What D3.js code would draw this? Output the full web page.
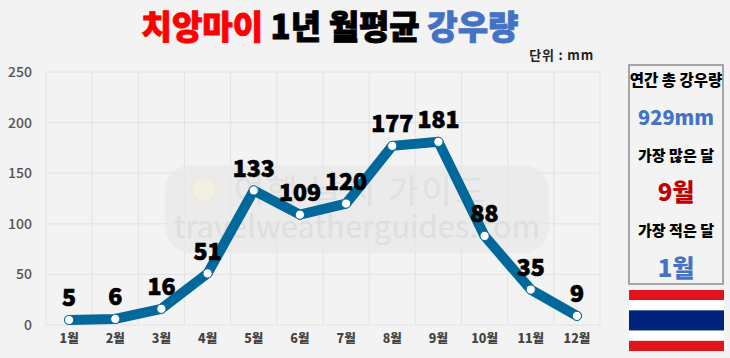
<!DOCTYPE html>
<html>
<head>
<meta charset="utf-8">
<script src="https://cdn.jsdelivr.net/npm/d3@7"></script>
<style>
html,body{margin:0;padding:0;background:#f3f3f3;overflow:hidden;}
text{font-family:"Noto Sans CJK KR","Noto Sans",sans-serif;}
</style>
</head>
<body>
<div id="container"></div>
<script>
//data
let months = ["1월","2월","3월","4월","5월","6월","7월","8월","9월","10월","11월","12월"];
let rainfall = [5,6,16,51,133,109,120,177,181,88,35,9];
let yTicks = [0,50,100,150,200,250];
let titleParts = ["치앙마이"," 1년 월평균 ","강우량"];
let titleColors = ["#ff0000","#000000","#4472c4"];
let sideLabels = ["연간 총 강우량","929mm","가장 많은 달","9월","가장 적은 달","1월"];
let sideColors = ["#000000","#4472c4","#000000","#c00000","#000000","#4472c4"];
let sideSizes = [15.5,20,15,24,15,24];
let flagStripes = [1,1,2,1,1];
let flagColors = ["#e0141c","#ffffff","#00247d","#ffffff","#e0141c"];

//settings
let w = 730;
let h = 358;
let viz = d3.select("#container").append("svg").attr("width", w).attr("height", h);
viz.append("rect").attr("width", w).attr("height", h).attr("fill", "#f3f3f3");

//scales
let xScale = d3.scaleBand().domain(months).range([46, 600]);
let yScale = d3.scaleLinear().domain([0, 250]).range([325, 72]);

//grid
let gridGroup = viz.append("g");
gridGroup.selectAll(".h").data(yTicks).enter().append("line")
  .attr("x1", 46).attr("x2", 600)
  .attr("y1", d => yScale(d)).attr("y2", d => yScale(d))
  .attr("stroke", "#e2e2e2").attr("stroke-width", 1);
gridGroup.selectAll(".v").data(months.concat("end")).enter().append("line")
  .attr("x1", (d, i) => 46 + i * xScale.bandwidth())
  .attr("x2", (d, i) => 46 + i * xScale.bandwidth())
  .attr("y1", 72).attr("y2", 325)
  .attr("stroke", "#e2e2e2").attr("stroke-width", 1);

//watermark
let mark = viz.append("g");
mark.append("rect").attr("x", 165).attr("y", 165).attr("width", 384).attr("height", 88).attr("rx", 26)
  .attr("fill", "#e8e8e8").attr("opacity", 0.8);
mark.append("circle").attr("cx", 204).attr("cy", 190).attr("r", 12)
  .attr("fill", "#f2efe4").attr("stroke", "#f0ead6").attr("stroke-width", 2);
mark.append("text").attr("x", 234).attr("y", 203).attr("font-size", 33).attr("letter-spacing", 3).attr("fill", "#e0e0e0")
  .text("여행 날씨 가이드");
mark.append("text").attr("x", 357).attr("y", 238).attr("text-anchor", "middle").attr("font-size", 31).attr("fill", "#dedede")
  .attr("font-family", "Noto Sans")
  .text("travelweatherguides.com");

//axes
let xAxis = d3.axisBottom(xScale).tickSize(0);
let xAxisGroup = viz.append("g").attr("transform", "translate(0,325)").call(xAxis);
xAxisGroup.select(".domain").remove();
xAxisGroup.selectAll("text").attr("y", 9).attr("font-size", 12.5).attr("font-weight", 900)
  .attr("font-family", "Noto Sans CJK KR").attr("fill", "#444");

let yAxis = d3.axisLeft(yScale).tickValues(yTicks).tickSize(0);
let yAxisGroup = viz.append("g").attr("transform", "translate(32,0)").call(yAxis);
yAxisGroup.select(".domain").remove();
yAxisGroup.selectAll("text").attr("x", 0).attr("font-size", 14).attr("font-weight", 500)
  .attr("font-family", "Noto Sans").attr("fill", "#555");

//line
let cx = d => xScale(d.month) + xScale.bandwidth() / 2;
let points = months.map((m, i) => ({month: m, value: rainfall[i]}));
let line = d3.line().x(cx).y(d => yScale(d.value));
viz.append("path").datum(points).attr("d", line)
  .attr("fill", "none").attr("stroke", "#01689b").attr("stroke-width", 10)
  .attr("stroke-linejoin", "round").attr("stroke-linecap", "round");

let graphGroup = viz.append("g");
let datapoints = graphGroup.selectAll(".datapoint").data(points).enter().append("g").classed("datapoint", true)
  .attr("transform", d => "translate(" + cx(d) + "," + yScale(d.value) + ")");
datapoints.append("circle").attr("r", 4.6).attr("fill", "#ffffff").attr("stroke", "#01689b").attr("stroke-width", 1);
datapoints.append("text").attr("y", -22).attr("dy", "0.36em").attr("text-anchor", "middle")
  .attr("font-size", 23).attr("font-weight", 900).attr("fill", "#000")
  .attr("stroke", "#000").attr("stroke-width", 0.7).text(d => d.value);

//title
let title = viz.append("text").attr("x", 330).attr("y", 39).attr("text-anchor", "middle")
  .attr("font-size", 33).attr("font-weight", 900).attr("xml:space", "preserve");
title.selectAll("tspan").data(titleParts).enter().append("tspan")
  .attr("fill", (d, i) => titleColors[i]).attr("stroke", (d, i) => titleColors[i]).attr("stroke-width", 0.9)
  .style("white-space", "pre").text(d => d);

viz.append("text").attr("x", 594).attr("y", 60).attr("text-anchor", "end")
  .attr("font-size", 13).attr("letter-spacing", 0.8).attr("font-weight", 700).attr("fill", "#222").text("단위 : mm");

//side box
viz.append("rect").attr("x", 629).attr("y", 65).attr("width", 94).attr("height", 219)
  .attr("fill", "none").attr("stroke", "#a6a6a6").attr("stroke-width", 2);
let sideY = d3.scalePoint().domain(d3.range(sideLabels.length)).range([80, 268]);
viz.selectAll(".side").data(sideLabels).enter().append("text").classed("side", true)
  .attr("x", 676).attr("y", (d, i) => sideY(i)).attr("dy", "0.36em").attr("text-anchor", "middle")
  .attr("font-size", (d, i) => sideSizes[i]).attr("font-weight", 900)
  .attr("fill", (d, i) => sideColors[i]).text(d => d);

//flag
let flagY = d3.scaleLinear().domain([0, d3.sum(flagStripes)]).range([290, 351]);
viz.selectAll(".stripe").data(flagStripes).enter().append("rect").classed("stripe", true)
  .attr("x", 629).attr("width", 95)
  .attr("y", (d, i) => flagY(d3.sum(flagStripes.slice(0, i))))
  .attr("height", d => flagY(d) - flagY(0))
  .attr("fill", (d, i) => flagColors[i]);
</script>
</body>
</html>
